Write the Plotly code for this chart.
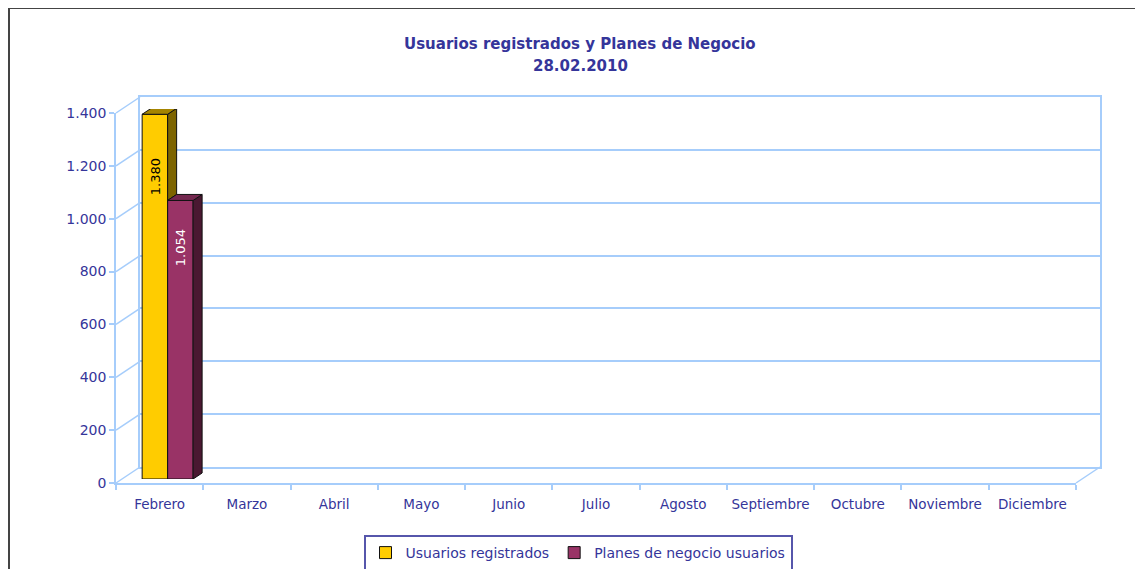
import plotly.graph_objects as go

# ---------------- data ----------------
months = ["Febrero", "Marzo", "Abril", "Mayo", "Junio", "Julio", "Agosto",
          "Septiembre", "Octubre", "Noviembre", "Diciembre"]
usuarios = [1380, None, None, None, None, None, None, None, None, None, None]
planes = [1054, None, None, None, None, None, None, None, None, None, None]
series_names = ["Usuarios registrados", "Planes de negocio usuarios"]
y_ticks = [0, 200, 400, 600, 800, 1000, 1200, 1400]
title_line1 = "Usuarios registrados y Planes de Negocio"
title_line2 = "28.02.2010"

# ---------------- geometry / style (page pixels) ----------------
OFF = 8                                   # html body margin
W_FIG, H_FIG = 1143 - OFF, 569 - OFF
L, R, T, B = 116, 1100, 97, 483          # plot area in page pixels
PW, PH = R - L, B - T
FX0, FX1 = 116, 1076                      # front plane x extent
FY0, FY1 = 483, 113                       # front plane y (value 0 / max)
DX, DY = 24, 16                           # wall depth offset
BDX, BDY = 8, 4                           # bar front face offset
BAR_DX, BAR_DY = 9, 6                     # bar depth

GRID = "#a6cdfb"
TXT = "#35359a"
FONT = "DejaVu Sans"
cols_front = ["#ffcc00", "#993366"]
cols_top = ["#a58400", "#74284f"]
cols_side = ["#7d6400", "#4a1831"]
txt_cols = ["#000000", "#ffffff"]

ymax = max(y_ticks)
n = len(months)


def px(x):
    return (x - L) / PW


def py(y):
    return (B - y) / PH


def yf(v):
    return FY0 - v / ymax * (FY0 - FY1)


fig = go.Figure()

# dummy traces so the front and back axis frames are drawn
fig.add_trace(go.Scatter(x=months, y=[None] * n, xaxis="x", yaxis="y",
                         showlegend=False, hoverinfo="skip"))
fig.add_trace(go.Scatter(x=[0], y=[None], xaxis="x2", yaxis="y2",
                         showlegend=False, hoverinfo="skip"))

# ---------------- bars ----------------
bargap = 0.416
bw = (1 - bargap) / 2
xs = list(range(n))
for j, (name, vals) in enumerate(zip(series_names, [usuarios, planes])):
    fig.add_trace(go.Bar(
        x=xs, y=vals, name=name, xaxis="x3", yaxis="y3",
        marker=dict(color=cols_front[j], line=dict(color="#111111", width=1)),
        hoverinfo="skip",
    ))

cat_px = (FX1 - FX0) / n
ddx = BAR_DX / cat_px
ddy = BAR_DY * ymax / (FY0 - FY1)

shapes = []
annotations = []
series = [usuarios, planes]
for k in range(n):
    for j, vals in enumerate(series):
        v = vals[k]
        if v is None:
            continue
        left = k - bw + j * bw
        right = left + bw
        base = 0
        if j + 1 < len(series) and series[j + 1][k] is not None:
            base = min(v, series[j + 1][k])
        side = (f"M {right},{base} L {right},{v} L {right+ddx},{v+ddy} "
                f"L {right+ddx},{base+ddy} Z")
        top = (f"M {left},{v} L {right},{v} L {right+ddx},{v+ddy} "
               f"L {left+ddx},{v+ddy} Z")
        shapes.append(dict(type="path", path=side, xref="x3", yref="y3",
                           fillcolor=cols_side[j], layer="above",
                           line=dict(color="#111111", width=1)))
        shapes.append(dict(type="path", path=top, xref="x3", yref="y3",
                           fillcolor=cols_top[j], layer="above",
                           line=dict(color="#111111", width=1)))
        annotations.append(dict(
            x=(left + right) / 2, y=0.83 * v, xref="x3", yref="y3",
            text=f"{v:,}".replace(",", "."), textangle=-90, showarrow=False,
            font=dict(family=FONT, size=13, color=txt_cols[j]),
        ))

# left wall diagonals at each tick
for v in y_ticks:
    shapes.append(dict(type="line", xref="paper", yref="paper",
                       x0=px(FX0), y0=py(yf(v)), x1=px(FX0 + DX), y1=py(yf(v) - DY),
                       line=dict(color=GRID, width=1.5), layer="below"))
# right floor diagonal
shapes.append(dict(type="line", xref="paper", yref="paper",
                   x0=px(FX1), y0=py(FY0), x1=px(FX1 + DX), y1=py(FY0 - DY),
                   line=dict(color=GRID, width=1.5), layer="below"))
# page frame (left and top)
shapes.append(dict(type="line", xref="paper", yref="paper",
                   x0=px(9), y0=py(8), x1=px(9), y1=py(600),
                   line=dict(color="#444444", width=2)))
shapes.append(dict(type="line", xref="paper", yref="paper",
                   x0=px(9), y0=py(8), x1=px(1200), y1=py(8),
                   line=dict(color="#444444", width=2)))

# titles
annotations.append(dict(x=px(580), y=py(33), xref="paper", yref="paper",
                        text=f"<b>{title_line1}</b>", showarrow=False,
                        font=dict(family=FONT, size=15, color=TXT)))
annotations.append(dict(x=px(580), y=py(55), xref="paper", yref="paper",
                        text=f"<b>{title_line2}</b>", showarrow=False,
                        font=dict(family=FONT, size=15, color=TXT)))

front_xdom = [px(FX0), px(FX1)]
front_ydom = [py(FY0), py(FY1)]
back_xdom = [px(FX0 + DX), px(FX1 + DX)]
back_ydom = [py(FY0 - DY), py(FY1 - DY)]
bar_xdom = [px(FX0 + BDX), px(FX1 + BDX)]
bar_ydom = [py(FY0 - BDY), py(FY1 - BDY)]

fig.update_layout(
    width=W_FIG, height=H_FIG,
    margin=dict(l=L - OFF, r=W_FIG - (R - OFF), t=T - OFF, b=H_FIG - (B - OFF),
                autoexpand=False),
    paper_bgcolor="white", plot_bgcolor="rgba(0,0,0,0)",
    separators=",.",
    barmode="group", bargap=bargap, bargroupgap=0,
    font=dict(family=FONT, size=14, color=TXT),
    showlegend=True,
    legend=dict(orientation="h", xref="container", yref="container",
                x=(578 - OFF) / W_FIG, xanchor="center",
                y=1 - (535 - OFF) / H_FIG, yanchor="top",
                bgcolor="white", bordercolor="#5656ab", borderwidth=2,
                font=dict(family=FONT, size=14, color=TXT),
                itemwidth=30, tracegroupgap=0),
    xaxis=dict(domain=front_xdom, type="category", categoryorder="array",
               categoryarray=months, tickvals=months, ticktext=months,
               range=[-0.5, n - 0.5], tickson="boundaries", ticks="outside",
               ticklen=5, tickcolor=GRID, tickwidth=1.5, showline=True,
               linecolor=GRID, linewidth=1.5, showgrid=False, zeroline=False,
               anchor="y", fixedrange=True, tickangle=0, ticklabelstandoff=8,
               tickfont=dict(family=FONT, size=13.5, color=TXT)),
    yaxis=dict(domain=front_ydom, range=[0, ymax], tickvals=y_ticks,
               tickformat=",d", ticks="outside", ticklen=5, tickcolor=GRID,
               tickwidth=1.5, showline=True, linecolor=GRID, linewidth=1.5,
               showgrid=False, zeroline=False, anchor="x", fixedrange=True,
               tickfont=dict(family=FONT, size=14, color=TXT)),
    xaxis2=dict(domain=back_xdom, range=[-0.5, n - 0.5], showgrid=False,
                showline=True, mirror=True, linecolor=GRID, linewidth=1.5,
                showticklabels=False, ticks="", zeroline=False, anchor="y2",
                fixedrange=True),
    yaxis2=dict(domain=back_ydom, range=[0, ymax], tickvals=y_ticks,
                showgrid=True, gridcolor=GRID, gridwidth=1.5, showline=True,
                mirror=True, linecolor=GRID, linewidth=1.5,
                showticklabels=False, ticks="", zeroline=False, anchor="x2",
                fixedrange=True),
    xaxis3=dict(domain=bar_xdom, range=[-0.5, n - 0.5], visible=False,
                anchor="y3", fixedrange=True),
    yaxis3=dict(domain=bar_ydom, range=[0, ymax], visible=False, anchor="x3",
                fixedrange=True),
    shapes=shapes,
    annotations=annotations,
)

fig.write_html("out.html")
